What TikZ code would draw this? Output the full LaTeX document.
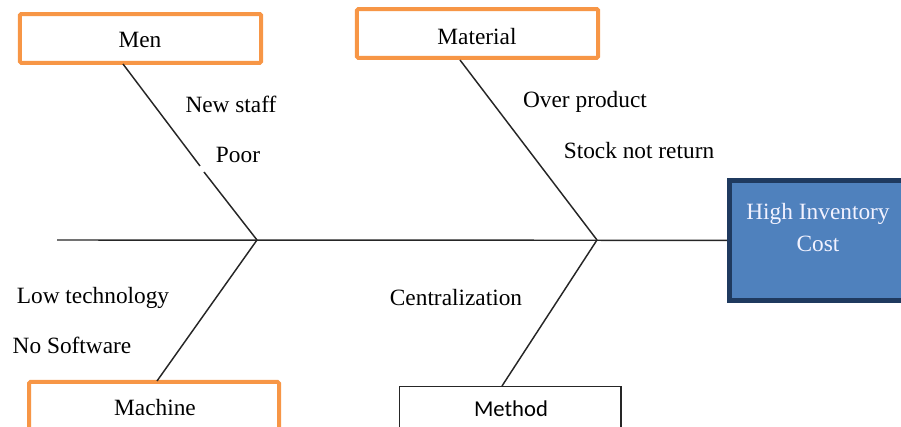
\documentclass[tikz,border=0pt]{standalone}
\usepackage{fontspec}
\setmainfont{Liberation Serif}
\newfontfamily\timesfont{Liberation Serif}
\newfontfamily\calfont{Carlito}
\definecolor{catorange}{HTML}{F79646}
\definecolor{effectblue}{HTML}{4F81BD}
\definecolor{effectedge}{HTML}{1F3A5F}
\begin{document}
\begin{tikzpicture}[x=0.75pt,y=-0.75pt,
  bone/.style={line width=1.1pt,black!85},
  catbox/.style={draw=catorange,line width=3pt,fill=white,rounded corners=1pt,inner sep=0pt},
  plainbox/.style={draw=black!85,line width=1pt,fill=white,inner sep=0pt},
  cause/.style={font=\timesfont\fontsize{17.5}{20}\selectfont,inner sep=0pt,anchor=center},
  cattext/.style={font=\timesfont\fontsize{17.5}{20}\selectfont,inner sep=0pt}]
\useasboundingbox (0,0) rectangle (901,427);
\clip (0,0) rectangle (901,427);

% spine and branch points
\coordinate (tail) at (57,240);
\coordinate (j1) at (257,240);
\coordinate (j2) at (597,240);

% effect box
\node[draw=effectedge,line width=3.5pt,fill=effectblue,minimum width=190pt,minimum height=90pt,anchor=north west] (effect) at (727,178) {};
\node[cattext,text=white!95!blue,align=center,font=\timesfont\fontsize{17.5}{24}\selectfont] (effecttext) at (818,228) {High Inventory\\Cost};

% category boxes
\node[catbox,minimum width=181pt,minimum height=36.5pt] (men) at (140.5,38.5) {};
\node[cattext] (mentext) at (140,40) {Men};
\node[catbox,minimum width=181pt,minimum height=36.5pt] (material) at (477.5,33.5) {};
\node[cattext] (materialtext) at (477,37) {Material};
\node[catbox,minimum width=187.5pt,minimum height=60pt,anchor=north west] (machine) at (27,380) {};
\node[cattext] (machinetext) at (155,408) {Machine};
\node[plainbox,minimum width=166pt,minimum height=60pt,anchor=north west] (method) at (399,386) {};
\node[cattext,font=\calfont\fontsize{17}{20}\selectfont] (methodtext) at (511,409) {Method};

% spine
\draw[bone] (tail) -- (effect.west);

% bones
\coordinate (menA) at (123,64);
\coordinate (menGap1) at (200,166);
\coordinate (menGap2) at (204,172);
\draw[bone] (menA) -- (menGap1);
\draw[bone] (menGap2) -- (j1);
\draw[bone] (460,60) coordinate (matA) -- (j2);
\draw[bone] (j1) -- (157,381) coordinate (macA);
\draw[bone] (j2) -- (502,386) coordinate (metA);

% causes
\node[cause] (c1) at (231,104) {New staff};
\node[cause] (c2) at (238,155) {Poor};
\node[cause] (c3) at (585,102) {Over product};
\node[cause] (c4) at (639,151) {Stock not return};
\node[cause] (c5) at (93,298) {Low technology};
\node[cause] (c6) at (72,345) {No Software};
\node[cause] (c7) at (456,298) {Centralization};
\end{tikzpicture}
\end{document}
